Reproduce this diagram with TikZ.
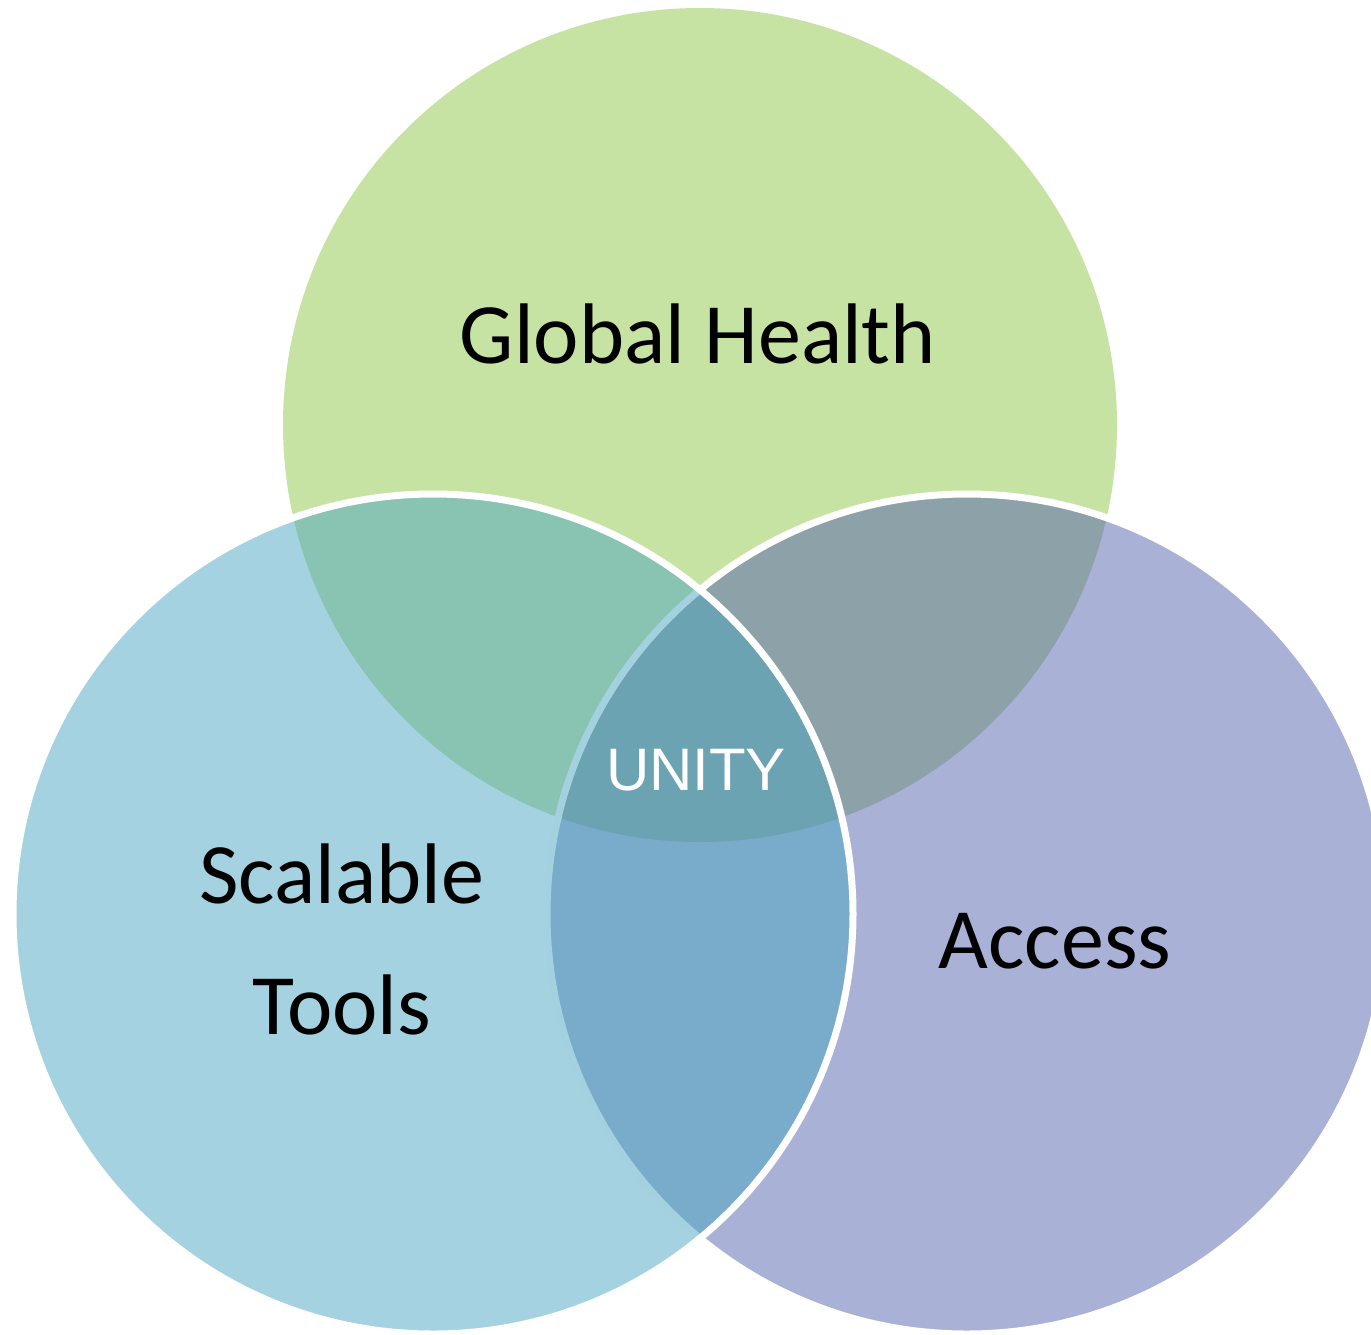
\documentclass[tikz,border=0pt]{standalone}
\usepackage{fontspec}
\setmainfont{Carlito}
\newfontfamily\unityfont{Liberation Sans}
\definecolor{healthgreen}{RGB}{141,199,71}
\definecolor{toolsblue}{RGB}{75,165,193}
\definecolor{accesspurple}{RGB}{83,99,173}
\tikzset{
  setdisc/.style={fill opacity=0.5, draw opacity=1},
  rimmed/.style={setdisc, draw=white, line width=7pt},
  setlabel/.style={anchor=base, text=black, inner sep=0pt,
    font=\fontsize{86}{131}\selectfont, align=center},
}
\begin{document}
\begin{tikzpicture}[x=1pt,y=-1pt]
  \useasboundingbox (0,0) rectangle (1371,1334);
  \clip (0,0) rectangle (1371,1334);
  % the three sets, drawn from back to front
  \fill[setdisc, healthgreen] (700,425) circle[radius=417];
  \path[rimmed, fill=accesspurple] (967,914) circle[radius=420];
  \path[rimmed, fill=toolsblue] (433,914) circle[radius=420];
  % labels (a multi-line node sits on the baseline of its last line)
  \node[setlabel] (health) at (698,363) {Global Health};
  \node[setlabel] (tools) at (342,1034) {Scalable\\Tools};
  \node[setlabel] (access) at (1055,968) {Access};
  \node[anchor=base, inner sep=0pt, text=white,
        font=\unityfont\fontsize{60}{72}\selectfont] (unity) at (696,790) {UNITY};
\end{tikzpicture}
\end{document}
